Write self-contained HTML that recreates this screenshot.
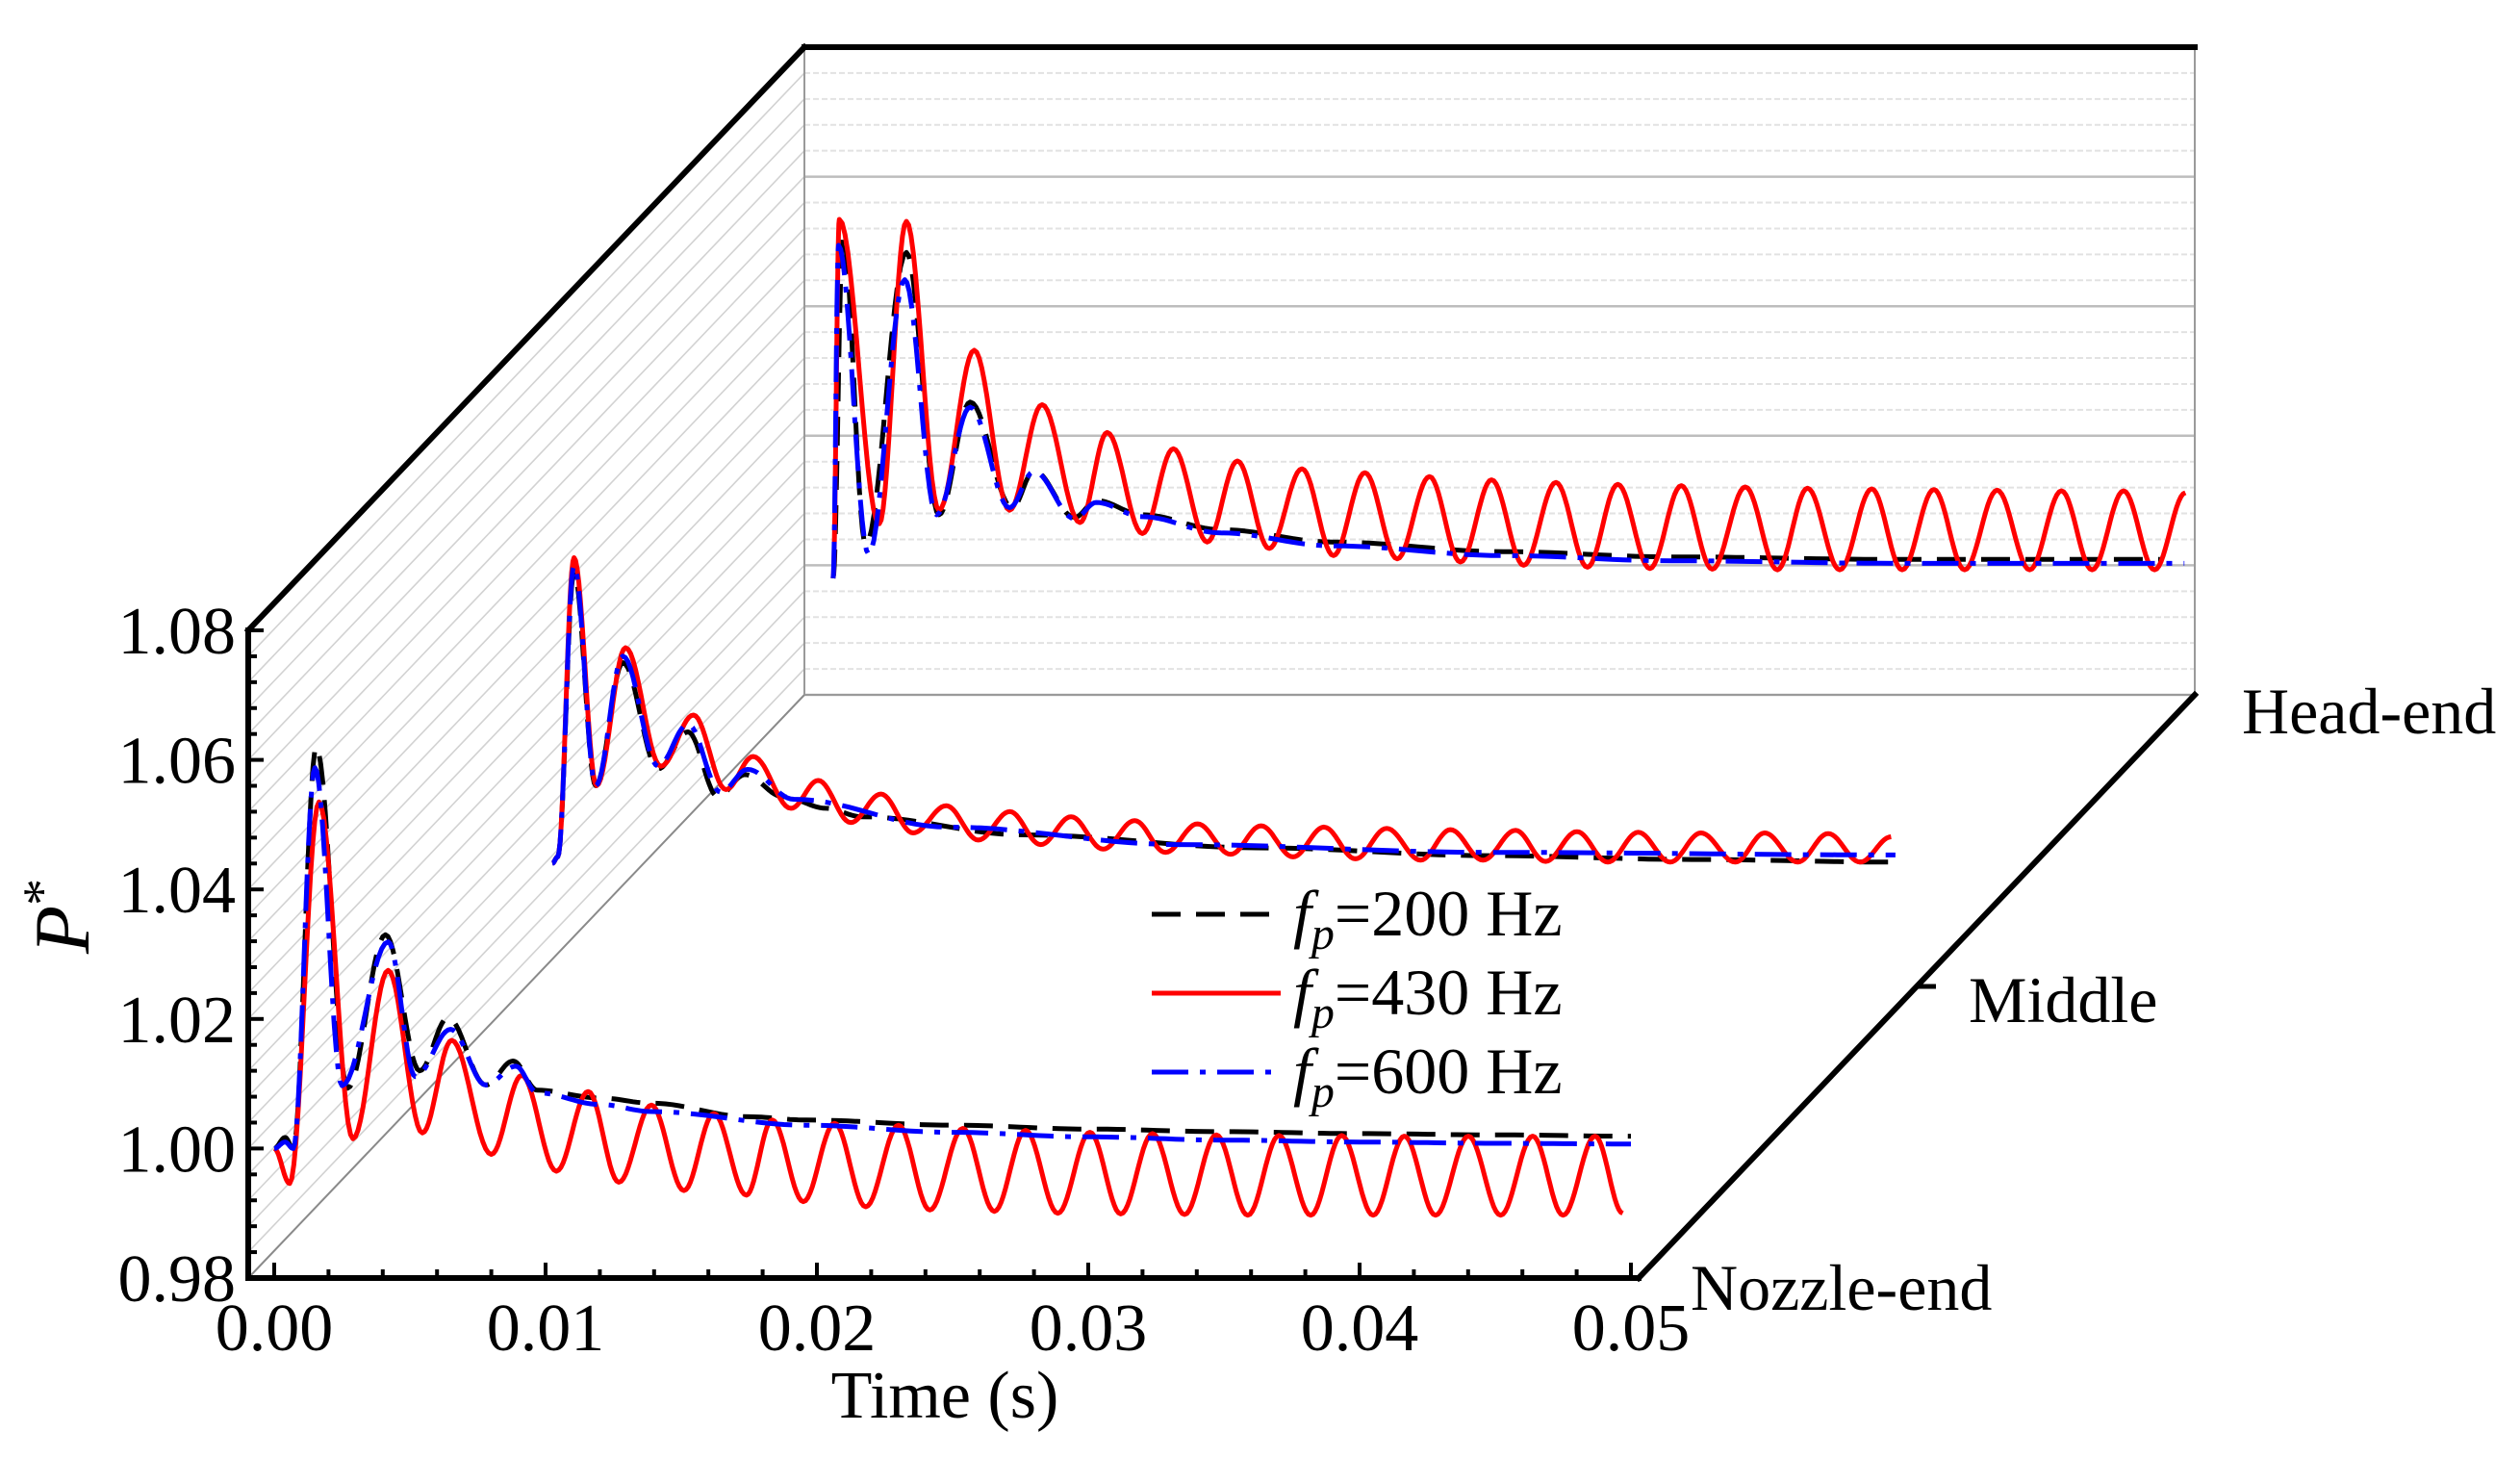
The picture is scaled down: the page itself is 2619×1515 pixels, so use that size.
<!DOCTYPE html>
<html><head><meta charset="utf-8"><style>
html,body{margin:0;padding:0;background:#fff;}
svg{display:block;font-family:"Liberation Serif",serif;}
</style></head><body>
<svg id="chart" width="2619" height="1515" viewBox="0 0 2619 1515" xmlns="http://www.w3.org/2000/svg">
<g id="walls"></g>
<g id="series"></g>
<g id="axes"></g>
<g id="legend">
  <line x1="1197" y1="950" x2="1331" y2="950" stroke="#000" stroke-width="5" stroke-dasharray="30 16"/>
  <text x="1344" y="972" font-size="68"><tspan font-style="italic">f</tspan><tspan font-style="italic" font-size="48" dy="14">p</tspan><tspan dy="-14">=200 Hz</tspan></text>
  <line x1="1197" y1="1032" x2="1331" y2="1032" stroke="#f00" stroke-width="5"/>
  <text x="1344" y="1054" font-size="68"><tspan font-style="italic">f</tspan><tspan font-style="italic" font-size="48" dy="14">p</tspan><tspan dy="-14">=430 Hz</tspan></text>
  <line x1="1197" y1="1114" x2="1331" y2="1114" stroke="#00f" stroke-width="5" stroke-dasharray="38 12 6 12"/>
  <text x="1344" y="1136" font-size="68"><tspan font-style="italic">f</tspan><tspan font-style="italic" font-size="48" dy="14">p</tspan><tspan dy="-14">=600 Hz</tspan></text>
</g>
<text x="982" y="1473" font-size="70" text-anchor="middle">Time (s)</text>
<text transform="translate(92,952) rotate(-90)" font-size="82" text-anchor="middle"><tspan font-style="italic">P</tspan><tspan font-size="56" dy="-30">*</tspan></text>
<text x="2330" y="762" font-size="68">Head-end</text>
<text x="2046" y="1062" font-size="68">Middle</text>
<text x="1757" y="1361" font-size="68">Nozzle-end</text>
</svg>
<script>
// ---- data ----
const yTicks = [0.98, 1.00, 1.02, 1.04, 1.06, 1.08];
const yTickLabels = ["0.98", "1.00", "1.02", "1.04", "1.06", "1.08"];
const xTicks = [0, 0.01, 0.02, 0.03, 0.04, 0.05];
const xTickLabels = ["0.00", "0.01", "0.02", "0.03", "0.04", "0.05"];
const locations = ["nozzle-end", "middle", "head-end"];
const depths = [0, 0.5, 1];

const nozzle200T = [0,0.0004,0.0007,0.00155,0.0027,0.0041,0.00536,0.0064,0.0078,0.0088,0.0097,0.012,0.0139,0.0175,0.0196,0.025,0.03,0.035,0.04,0.045,0.05];
const nozzle200P = [1.000,1.0017,1.000,1.062,1.0093,1.033,1.012,1.0202,1.0098,1.0135,1.009,1.0078,1.0070,1.0049,1.0044,1.0036,1.003,1.0026,1.0023,1.0021,1.0019];
const nozzle600T = [0,0.0004,0.0007,0.0015,0.0025,0.0042,0.0052,0.0065,0.0078,0.0089,0.0097,0.012,0.0139,0.0196,0.025,0.03,0.035,0.04,0.045,0.05];
const nozzle600P = [1.000,1.001,1.000,1.0588,1.0097,1.0319,1.0111,1.0184,1.0098,1.0127,1.0086,1.0068,1.0057,1.0036,1.0025,1.0018,1.0013,1.001,1.0008,1.0007];
const nozzle430T = [0,0.00057,0.00165,0.0029,0.0042,0.00546,0.00654,0.0080,0.00912,0.0104,0.01157,0.0127,0.0139,0.0151,0.0162,0.0174,0.01835,0.0195,0.02065,0.0218,0.02301,0.02416,0.02538,0.02654,0.02769,0.02888,0.03006,0.0312,0.03237,0.03355,0.03472,0.03588,0.03703,0.0382,0.03934,0.0405,0.04165,0.0428,0.04401,0.0452,0.04638,0.0475,0.04868,0.0497];
const nozzle430P = [1.000,0.9946,1.0535,1.0015,1.0275,1.0024,1.0167,0.9991,1.0113,0.9965,1.0088,0.9948,1.0067,0.9935,1.0054,0.9928,1.0044,0.9918,1.0039,0.9910,1.0036,0.9905,1.0031,0.9903,1.0028,0.9900,1.0025,0.9899,1.0023,0.9898,1.0021,0.9897,1.0020,0.9897,1.0020,0.9897,1.0019,0.9897,1.0019,0.9897,1.0019,0.9897,1.0019,0.9900];

const middle200T = [0,0.0002,0.0008,0.0016,0.0026,0.0039,0.005,0.0061,0.0071,0.0085,0.0101,0.0114,0.0174,0.026,0.0345,0.042,0.0495];
const middle200P = [0.999,1.000,1.044,1.011,1.030,1.0136,1.0193,1.0093,1.0127,1.0093,1.0075,1.0062,1.0034,1.0014,1.0002,0.9996,0.9992];
const middle600T = [0,0.0002,0.0008,0.0016,0.0026,0.0039,0.005,0.0062,0.0072,0.0089,0.0146,0.0231,0.0345,0.0495];
const middle600P = [0.999,1.000,1.045,1.011,1.031,1.014,1.0205,1.010,1.0135,1.0089,1.0046,1.0019,1.0007,1.0003];
const middle430T = [0,0.0002,0.0008,0.00163,0.0027,0.004,0.0052,0.0064,0.0074,0.0088,0.0098,0.0110,0.01211,0.0133,0.01452,0.0157,0.01686,0.0180,0.01912,0.0203,0.02146,0.0226,0.02378,0.0250,0.02612,0.0273,0.02844,0.0296,0.03075,0.0320,0.0331,0.0343,0.0355,0.0366,0.03776,0.0389,0.04002,0.0412,0.04233,0.0436,0.04468,0.0459,0.04702,0.0482,0.04934];
const middle430P = [0.9990,1.000,1.0462,1.011,1.0323,1.014,1.0219,1.0104,1.0155,1.0075,1.0118,1.0053,1.0097,1.0037,1.0079,1.0026,1.007,1.0019,1.0062,1.0012,1.0056,1.0007,1.0051,1.0004,1.0048,1.0000,1.0046,0.9997,1.0044,0.9995,1.0042,0.9995,1.0041,0.9993,1.0039,0.9992,1.0038,0.9992,1.0037,0.9992,1.0037,0.9992,1.0036,0.9992,1.0031];

const head200T = [0.0001,0.00046,0.0013,0.0028,0.004,0.00515,0.0067,0.0075,0.009,0.0098,0.0115,0.0144,0.0185,0.0248,0.031,0.0393,0.049];
const head200P = [0.998,1.051,1.0032,1.0483,1.0078,1.0252,1.0089,1.0146,1.0074,1.010,1.0078,1.0055,1.0036,1.0021,1.0013,1.0009,1.0009];
const head600T = [0.0001,0.0003,0.00141,0.00274,0.00391,0.00515,0.0066,0.0075,0.009,0.0098,0.0115,0.0144,0.0185,0.0248,0.031,0.0393,0.0499];
const head600P = [0.998,1.0494,1.0017,1.0441,1.0078,1.0244,1.0089,1.0145,1.0072,1.0097,1.0075,1.005,1.003,1.0015,1.0007,1.0003,1.0003];
const head430T = [0.0001,0.00033,0.0018,0.0028,0.004,0.0053,0.0066,0.0078,0.0092,0.0102,0.0115,0.01264,0.01389,0.0150,0.01617,0.01738,0.01854,0.0197,0.02089,0.02208,0.02322,0.02437,0.02555,0.02674,0.0279,0.02902,0.0302,0.03136,0.0325,0.03372,0.0349,0.03601,0.0372,0.03838,0.0395,0.04067,0.0418,0.043,0.0442,0.04537,0.0465,0.04766,0.0488,0.04994];
const head430P = [0.998,1.0534,1.0064,1.0531,1.0085,1.0332,1.0085,1.0248,1.0066,1.0205,1.0049,1.018,1.0036,1.0161,1.0026,1.0149,1.0015,1.0143,1.001,1.0137,1.0005,1.0132,1.000,1.0128,0.9997,1.0125,0.9995,1.0123,0.9994,1.0121,0.9993,1.0119,0.9993,1.0118,0.9993,1.0117,0.9993,1.0116,0.9993,1.0115,0.9993,1.0115,0.9993,1.0112];

// ---- geometry / axis functions ----
const NS = "http://www.w3.org/2000/svg";
const X0 = 258, XT0 = 285, XPER = 28200, XEND = 1703;
const YB = 1328, YT = 655, PMIN = 0.98, PMAX = 1.08;
const DX = 578, DY = -606;
function xs(t, d) { return XT0 + t * XPER + d * DX; }
function ys(p, d) { return YB - (p - PMIN) / (PMAX - PMIN) * (YB - YT) + d * DY; }
function mk(tag, attrs, parent) {
  const el = document.createElementNS(NS, tag);
  for (const k in attrs) el.setAttribute(k, attrs[k]);
  parent.appendChild(el);
  return el;
}
const walls = document.getElementById("walls");
const axes = document.getElementById("axes");
const series = document.getElementById("series");

// side wall hatch + back wall grid
for (let i = 0; i <= 25; i++) {
  const p = PMIN + i * 0.004;
  const l = mk("line", {x1: X0, y1: ys(p,0), x2: X0 + DX, y2: ys(p,1), stroke: "#d2d2d2", "stroke-width": 1.6}, walls);
  
  
  const major = (i % 5 === 0);
  const g = mk("line", {x1: X0 + DX, y1: ys(p,1), x2: XEND + DX, y2: ys(p,1), stroke: major ? "#bdbdbd" : "#e2e2e2", "stroke-width": major ? 2.5 : 2, "stroke-dasharray": major ? "none" : "6 3"}, walls);
  
  
}
const bw = mk("path", {d: `M${X0+DX},${YT+DY} V${YB+DY} H${XEND+DX} V${YT+DY}`, fill: "none", stroke: "#9a9a9a", "stroke-width": 2}, walls);


const fl = mk("line", {x1: X0, y1: YB, x2: X0 + DX, y2: YB + DY, stroke: "#8a8a8a", "stroke-width": 2}, walls);



// series
function buildPath(T, P, d) {
  const n = Math.min(T.length, P.length);
  let s = `M${xs(T[0],d).toFixed(1)},${ys(P[0],d).toFixed(1)}`;
  for (let i = 0; i < n - 1; i++) {
    const steps = 14;
    for (let k = 1; k <= steps; k++) {
      const u = k / steps;
      const w = (1 - Math.cos(Math.PI * u)) / 2;
      const t = T[i] + (T[i+1] - T[i]) * u;
      const p = P[i] + (P[i+1] - P[i]) * w;
      s += ` L${xs(t,d).toFixed(1)},${ys(p,d).toFixed(1)}`;
    }
  }
  return s;
}
const styles = {
  "200": {stroke: "#000", dash: "30 16"},
  "430": {stroke: "#f00", dash: "none"},
  "600": {stroke: "#00f", dash: "38 12 6 12"}
};
const sets = [
  ["head-end", 1, head200T, head200P, "200"], ["head-end", 1, head430T, head430P, "430"], ["head-end", 1, head600T, head600P, "600"],
  ["middle", 0.5, middle200T, middle200P, "200"], ["middle", 0.5, middle430T, middle430P, "430"], ["middle", 0.5, middle600T, middle600P, "600"],
  ["nozzle-end", 0, nozzle200T, nozzle200P, "200"], ["nozzle-end", 0, nozzle430T, nozzle430P, "430"], ["nozzle-end", 0, nozzle600T, nozzle600P, "600"]
];
sets.forEach(s => {
  const st = styles[s[4]];
  const el = mk("path", {d: buildPath(s[2], s[3], s[1]), fill: "none", stroke: st.stroke, "stroke-width": 5, "stroke-dasharray": st.dash, "stroke-linejoin": "round"}, series);
  
  
});

// axes frame (black)
const frame = mk("path", {d: `M${X0+DX},${YT+DY} H${XEND+DX} M${X0},${YT} L${X0+DX},${YT+DY} M${XEND},${YB} L${XEND+DX},${YB+DY} M${X0},${YT} V${YB} H${XEND}`, fill: "none", stroke: "#000", "stroke-width": 6, "stroke-linecap": "square"}, axes);


const mt = mk("line", {x1: XEND + DX*0.5, y1: YB + DY*0.5, x2: XEND + DX*0.5 + 20, y2: YB + DY*0.5, stroke: "#000", "stroke-width": 5}, axes);



// y ticks
for (let i = 0; i <= 25; i++) {
  const p = PMIN + i * 0.004;
  const major = (i % 5 === 0);
  const t = mk("line", {x1: X0, y1: ys(p,0), x2: X0 + (major ? 16 : 9), y2: ys(p,0), stroke: "#000", "stroke-width": 4}, axes);
  
  
}
yTicks.forEach((v, i) => {
  const t = mk("text", {x: 245, y: ys(v,0) + 24, "font-size": 70, "text-anchor": "end"}, axes);
  t.textContent = yTickLabels[i];
  
  
});
// x ticks
for (let i = 0; i <= 25; i++) {
  const tv = i * 0.002;
  const major = (i % 5 === 0);
  const t = mk("line", {x1: xs(tv,0), y1: YB, x2: xs(tv,0), y2: YB - (major ? 16 : 9), stroke: "#000", "stroke-width": 4}, axes);
  
  
}
xTicks.forEach((v, i) => {
  const t = mk("text", {x: xs(v,0), y: 1403, "font-size": 70, "text-anchor": "middle"}, axes);
  t.textContent = xTickLabels[i];
  
  
});
</script>
</body></html>
